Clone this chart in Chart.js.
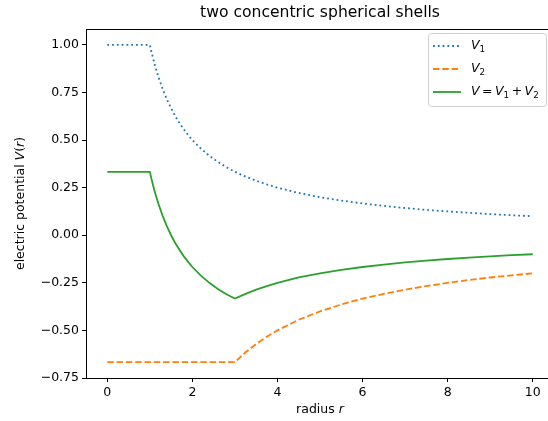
<!DOCTYPE html>
<html lang="en">
<head>
<meta charset="UTF-8">
<title>two concentric spherical shells</title>
<script src="https://cdn.jsdelivr.net/npm/chart.js@4/dist/chart.umd.min.js"></script>
<style>
  html, body { margin: 0; padding: 0; background: #fff; overflow: hidden; }
  .box { width: 560px; height: 421px; }
</style>
</head>
<body>
<div class="box"><canvas id="shells"></canvas></div>
<script>
// radius samples
var radius = [0, 0.5, 1, 1.05, 1.1, 1.15, 1.2, 1.3, 1.4, 1.5, 1.6, 1.7, 1.8, 1.9, 2.0, 2.2, 2.4, 2.6, 2.8, 3.0,
              3.25, 3.5, 3.75, 4, 4.5, 5, 5.5, 6, 6.5, 7, 7.5, 8, 8.5, 9, 9.5, 10];
var v1 = [1, 1, 1, 0.952, 0.909, 0.870, 0.833, 0.769, 0.714, 0.667, 0.625, 0.588, 0.556, 0.526, 0.5,
          0.455, 0.417, 0.385, 0.357, 0.333,
          0.308, 0.286, 0.267, 0.25, 0.222, 0.2, 0.182, 0.167, 0.154, 0.143, 0.133, 0.125, 0.118, 0.111, 0.105, 0.1];
var v2 = [-0.667, -0.667, -0.667, -0.667, -0.667, -0.667, -0.667, -0.667, -0.667, -0.667, -0.667, -0.667, -0.667, -0.667, -0.667,
          -0.667, -0.667, -0.667, -0.667, -0.667,
          -0.615, -0.571, -0.533, -0.5, -0.444, -0.4, -0.364, -0.333, -0.308, -0.286, -0.267, -0.25, -0.235, -0.222, -0.211, -0.2];
var vTotal = [0.333, 0.333, 0.333, 0.286, 0.242, 0.203, 0.167, 0.103, 0.048, 0.0, -0.042, -0.078, -0.111, -0.140, -0.167,
              -0.212, -0.25, -0.282, -0.31, -0.333,
              -0.308, -0.286, -0.267, -0.25, -0.222, -0.2, -0.182, -0.167, -0.154, -0.143, -0.133, -0.125, -0.118, -0.111, -0.105, -0.1];
var xTicks = [0, 2, 4, 6, 8, 10];
var yTicks = [-0.75, -0.5, -0.25, 0, 0.25, 0.5, 0.75, 1.0];

function pts(vals) {
  return radius.map(function (r, i) { return { x: r, y: vals[i] }; });
}

var FONT = "'DejaVu Sans', sans-serif";

// label parts: [text, italic, subscript]
function mathWidth(c, parts, size) {
  var w = 0;
  for (var k = 0; k < parts.length; k++) {
    c.font = (parts[k][1] ? 'italic ' : '') + (parts[k][2] ? size * 0.7 : size) + 'px ' + FONT;
    w += c.measureText(parts[k][0]).width;
  }
  return w;
}
function drawMath(c, parts, x, y, size) {
  c.fillStyle = '#000';
  c.textBaseline = 'middle';
  c.textAlign = 'left';
  for (var k = 0; k < parts.length; k++) {
    var p = parts[k];
    c.font = (p[1] ? 'italic ' : '') + (p[2] ? size * 0.7 : size) + 'px ' + FONT;
    c.fillText(p[0], x, y + (p[2] ? size * 0.3 : 0));
    x += c.measureText(p[0]).width;
  }
}

var title = [['two concentric spherical shells', false]];
var xTitle = [['radius ', false], ['r', true]];
var yTitle = [['electric potential ', false], ['V', true], ['(', false], ['r', true], [')', false]];

// frame (top/right spines), titles and legend with math-style labels
var extras = {
  id: 'extras',
  afterDraw: function (chart) {
    var c = chart.ctx, a = chart.chartArea;
    c.save();
    c.strokeStyle = '#000';
    c.lineWidth = 1;
    c.strokeRect(a.left + 0.5, a.top + 0.5, a.right - a.left, a.bottom - a.top);

    // titles
    var w = mathWidth(c, title, 15.6);
    drawMath(c, title, (a.left + a.right) / 2 - w / 2, 13, 15.6);
    w = mathWidth(c, xTitle, 12.5);
    drawMath(c, xTitle, (a.left + a.right) / 2 - w / 2, 410, 12.5);
    c.save();
    c.translate(21, (a.top + a.bottom) / 2);
    c.rotate(-Math.PI / 2);
    w = mathWidth(c, yTitle, 12.5);
    drawMath(c, yTitle, -w / 2, 0, 12.5);
    c.restore();

    // legend box
    var lx = 428, ly = 33, lw = 118, lh = 73;
    c.fillStyle = 'rgba(255,255,255,0.8)';
    c.strokeStyle = '#d0d0d0';
    c.beginPath();
    c.roundRect(lx + 0.5, ly + 0.5, lw, lh, 3);
    c.fill();
    c.stroke();

    var items = chart.data.datasets;
    for (var i = 0; i < items.length; i++) {
      var y = ly + 13 + i * 23;
      c.strokeStyle = items[i].borderColor;
      c.lineWidth = items[i].borderWidth;
      c.setLineDash(items[i].borderDash || []);
      c.beginPath();
      c.moveTo(lx + 5, y);
      c.lineTo(lx + 33, y);
      c.stroke();
      c.setLineDash([]);
      drawMath(c, items[i].mathLabel, lx + 43, y, 12.5);
    }
    c.restore();
  }
};

new Chart(document.getElementById('shells'), {
  type: 'line',
  data: {
    datasets: [{
      label: 'V1',
      mathLabel: [['V', true], ['1', false, true]],
      data: pts(v1),
      borderColor: '#1f77b4',
      borderWidth: 1.8,
      borderDash: [1.8, 3],
      pointRadius: 0
    }, {
      label: 'V2',
      mathLabel: [['V', true], ['2', false, true]],
      data: pts(v2),
      borderColor: '#ff7f0e',
      borderWidth: 1.8,
      borderDash: [6.5, 2.8],
      pointRadius: 0
    }, {
      label: 'V = V1 + V2',
      mathLabel: [['V', true], ['\u2009=\u2009', false], ['V', true], ['1', false, true], ['\u2009+\u2009', false], ['V', true], ['2', false, true]],
      data: pts(vTotal),
      borderColor: '#2ca02c',
      borderWidth: 1.8,
      pointRadius: 0
    }]
  },
  options: {
    responsive: true,
    maintainAspectRatio: false,
    animation: false,
    layout: { padding: { left: 0, right: 6, top: 29, bottom: 0 } },
    plugins: {
      legend: { display: false },
      tooltip: { enabled: false },
      title: { display: false }
    },
    scales: {
      x: {
        type: 'linear',
        min: -0.5,
        max: 10.5,
        afterBuildTicks: function (s) { s.ticks = xTicks.map(function (v) { return { value: v }; }); },
        afterFit: function (s) { s.height = 43; },
        grid: { drawOnChartArea: false, drawTicks: true, tickLength: 4, color: '#000' },
        border: { color: '#000' },
        ticks: { color: '#000', font: { family: FONT, size: 12.5 }, padding: 3, maxRotation: 0 }
      },
      y: {
        type: 'linear',
        min: -0.75,
        max: 1.0833,
        afterBuildTicks: function (s) { s.ticks = yTicks.map(function (v) { return { value: v }; }); },
        afterFit: function (s) { s.width = 86; },
        grid: { drawOnChartArea: false, drawTicks: true, tickLength: 4, color: '#000' },
        border: { color: '#000' },
        ticks: {
          color: '#000',
          font: { family: FONT, size: 12.5 },
          padding: 3,
          callback: function (v) { return (v < 0 ? '\u2212' : '') + Math.abs(v).toFixed(2); }
        }
      }
    }
  },
  plugins: [extras]
});
</script>
</body>
</html>
